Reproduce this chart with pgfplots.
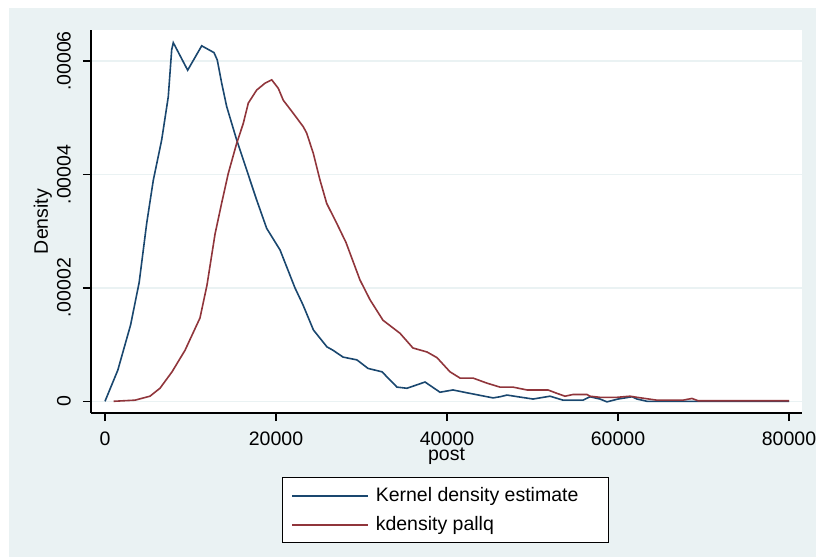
\documentclass[border=0pt]{standalone}
\usepackage{fontspec}
\setmainfont{Liberation Sans}
\usepackage{pgfplots}
\pgfplotsset{compat=1.18}
\usetikzlibrary{backgrounds}

\definecolor{stnavy}{RGB}{26,71,111}
\definecolor{stmaroon}{RGB}{144,53,59}
\definecolor{stback}{RGB}{234,242,243}

\begin{document}
\fontsize{19.5}{23}\selectfont
\begin{tikzpicture}[x=1pt,y=1pt]
\begin{axis}[
  width=711pt, height=383pt, scale only axis,
  xmin=-1637, xmax=81520,
  ymin=-2.064e-6, ymax=6.549e-5,
  axis background/.style={fill=white},
  axis x line*=bottom, axis y line*=left,
  axis line style={black, line width=1.6pt, -},
  xtick={0,20000,40000,60000,80000},
  xticklabels={0,20000,40000,60000,80000},
  ytick={0,2e-5,4e-5,6e-5},
  yticklabels={0,.00002,.00004,.00006},
  scaled x ticks=false, scaled y ticks=false,
  tick align=outside, major tick length=8pt,
  tick style={black, line width=1.5pt},
  ymajorgrids, xmajorgrids=false,
  major grid style={stback, line width=1.6pt},
  /pgf/number format/assume math mode=true,
  xticklabel style={inner sep=0pt, anchor=north, yshift=-11pt},
  yticklabel style={rotate=90, anchor=south, inner sep=0pt, yshift=12pt},
  xlabel={post}, ylabel={Density},
  every axis x label/.style={at={(axis description cs:0.5,0)}, anchor=north, inner sep=0pt, yshift=-35pt},
  every axis y label/.style={at={(axis description cs:0,0.5)}, rotate=90, anchor=south, inner sep=0pt, yshift=39pt},
  legend style={at={(axis description cs:0.4986,-0.167)}, anchor=north,
    draw=black, line width=1.2pt, fill=white,
    inner xsep=9pt, inner ysep=7.5pt,
    row sep=8pt,
    /tikz/every odd column/.append style={column sep=4.5pt}},
  legend cell align=left,
  legend image code/.code={\draw[#1, line width=2pt] (0pt,0pt) -- (76pt,0pt);},
]
\coordinate (sw) at (rel axis cs:0,0);
\addplot[stnavy, line width=1.6pt] coordinates {
(0,0) (1500,5.5e-6) (3000,1.35e-5) (4000,2.1e-5) (4877,3.14e-5)
(5650,3.9e-5) (6630,4.61e-5) (7400,5.37e-5) (7800,6.2e-5) (7988,6.325e-5)
(9670,5.84e-5) (11310,6.27e-5) (12750,6.15e-5) (13130,6.02e-5) (13650,5.61e-5)
(14230,5.2e-5) (15400,4.61e-5) (16570,4.08e-5) (17740,3.55e-5) (18910,3.05e-5)
(20470,2.67e-5) (22220,2.0e-5) (23160,1.7e-5) (24370,1.26e-5) (25960,9.6e-6)
(26670,9.0e-6) (27840,7.8e-6) (29470,7.3e-6) (30760,5.8e-6) (32400,5.2e-6)
(34150,2.5e-6) (35320,2.3e-6) (37430,3.4e-6) (39180,1.6e-6) (40700,2.0e-6)
(42340,1.5e-6) (45380,0.6e-6) (46200,0.8e-6) (47020,1.1e-6) (48300,0.8e-6)
(50060,0.4e-6) (52050,0.9e-6) (53570,0.2e-6) (55910,0.2e-6) (56720,0.8e-6)
(57890,0.4e-6) (58710,-0.1e-6) (60000,0.4e-6) (61640,0.8e-6) (62220,0.4e-6)
(63390,0) (80000,0)
};
\addlegendentry{\makebox[222pt][l]{Kernel density estimate}}
\addplot[stmaroon, line width=1.6pt] coordinates {
(1000,0) (3510,0.2e-6) (5260,0.9e-6) (6430,2.3e-6) (7840,5.2e-6)
(9360,9.0e-6) (11110,1.47e-5) (11930,2.05e-5) (12870,2.95e-5) (13650,3.5e-5)
(14420,4.02e-5) (15400,4.55e-5) (16170,4.9e-5) (16760,5.26e-5) (17740,5.49e-5)
(18710,5.61e-5) (19500,5.67e-5) (20270,5.52e-5) (20850,5.31e-5) (22020,5.08e-5)
(23200,4.84e-5) (23590,4.73e-5) (24370,4.37e-5) (25150,3.9e-5) (25930,3.49e-5)
(27100,3.14e-5) (28190,2.8e-5) (29820,2.14e-5) (31000,1.79e-5) (32510,1.43e-5)
(34500,1.2e-5) (36020,9.4e-6) (37660,8.7e-6) (38830,7.7e-6) (40350,5.2e-6)
(41520,4.1e-6) (43040,4.1e-6) (44680,3.2e-6) (46200,2.5e-6) (47720,2.5e-6)
(49360,2.0e-6) (51810,2.0e-6) (52860,1.4e-6) (53800,0.9e-6) (54740,1.2e-6)
(56370,1.2e-6) (56720,0.9e-6) (57890,0.7e-6) (59880,0.7e-6) (61400,0.9e-6)
(62220,0.7e-6) (64560,0.2e-6) (67600,0.2e-6) (68650,0.5e-6) (69360,0.1e-6)
(80000,0.1e-6)
};
\addlegendentry{kdensity pallq}
\end{axis}
% page background and page size, measured from the plot's lower left corner
\begin{scope}[on background layer]
  \fill[stback] ([shift={(-82pt,-144pt)}]sw) rectangle ([shift={(725pt,405pt)}]sw);
\end{scope}
\pgfresetboundingbox
\useasboundingbox ([shift={(-91pt,-144pt)}]sw) rectangle ([shift={(725pt,413pt)}]sw);
\end{tikzpicture}
\end{document}
